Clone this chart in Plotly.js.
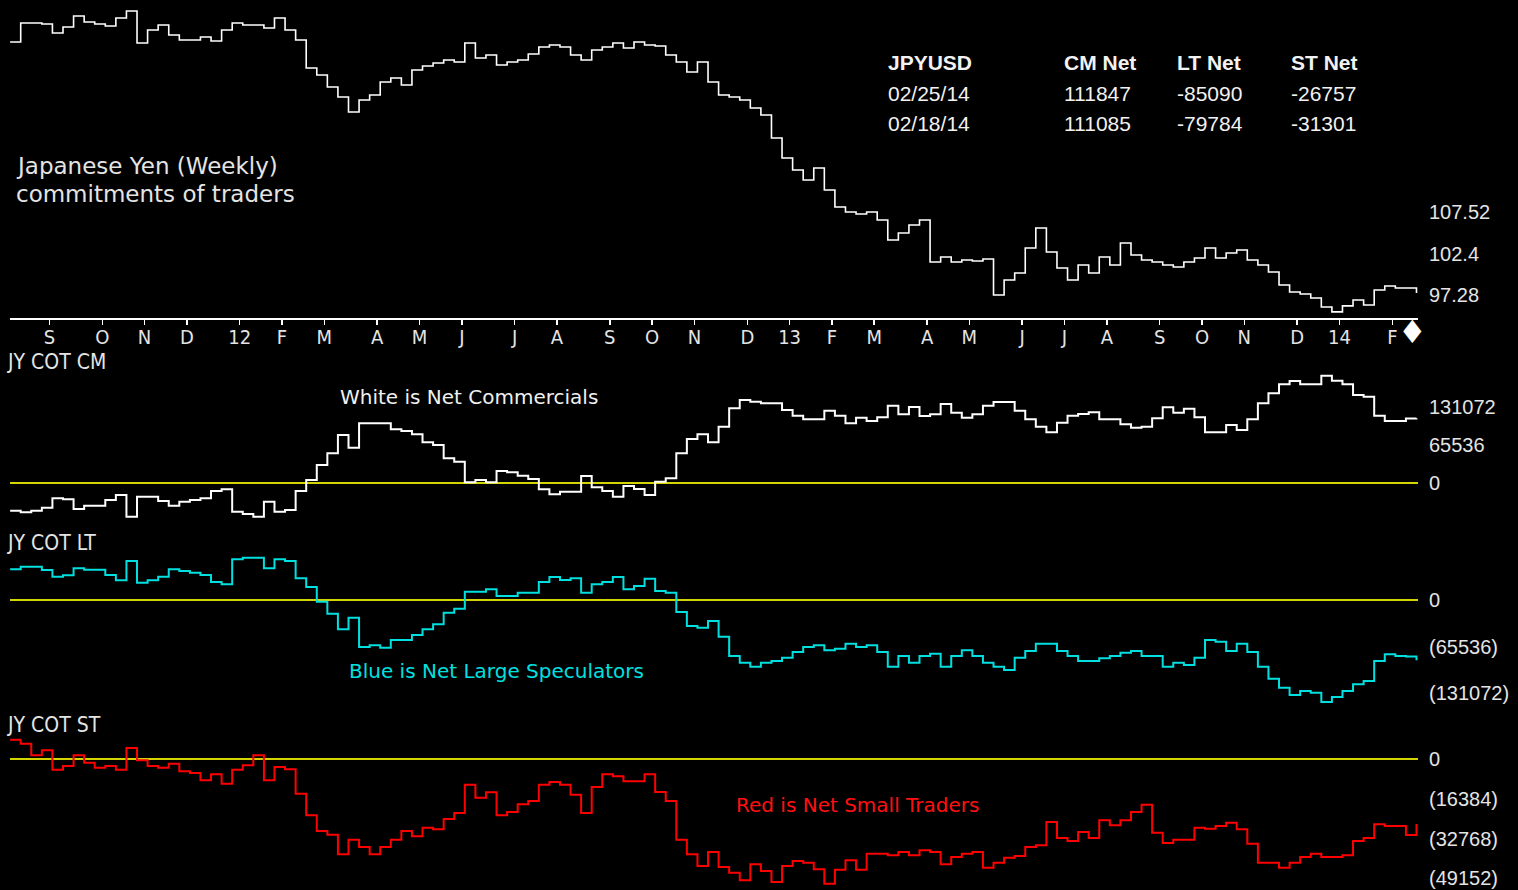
<!DOCTYPE html>
<html><head><meta charset="utf-8">
<script src="https://cdn.plot.ly/plotly-3.0.1.min.js"></script>
<style>html,body{margin:0;padding:0;background:#000;overflow:hidden}#chart{width:1518px;height:890px}</style>
</head><body><div id="chart"></div>
<script>
// Weekly COT report dates (Tuesdays), first week and count
const firstWeek = '2011-08-09';
const weekCount = 134;

// Japanese Yen futures weekly close (x100)
const jpyusd = [128.56,130.90,130.90,130.78,129.67,130.41,131.77,131.03,130.78,130.53,
131.52,132.38,128.43,130.04,130.66,129.42,128.81,128.81,129.17,128.68,
130.04,130.90,130.66,130.66,130.29,131.52,130.04,128.81,125.35,124.49,
123.01,121.77,119.92,121.40,122.02,123.62,124.12,123.25,125.10,125.60,
125.97,126.34,126.09,128.43,126.58,126.95,125.72,126.09,126.34,127.08,
127.94,128.19,127.94,126.95,126.34,127.57,127.94,128.43,127.82,128.56,
128.19,128.06,126.95,126.09,124.86,126.09,123.62,122.02,121.77,121.40,
120.41,119.55,116.71,114.25,112.77,111.53,113.01,110.30,108.20,107.58,
107.34,107.58,106.60,104.13,104.99,105.98,106.60,101.41,102.03,101.41,
101.66,101.54,101.78,97.34,99.19,100.06,103.14,105.61,102.65,100.67,
99.19,101.04,100.06,102.03,101.04,103.76,102.28,101.66,101.41,101.04,
100.80,101.41,101.91,103.14,101.91,102.52,102.89,101.66,101.04,100.18,
98.58,97.71,97.47,96.97,95.86,95.25,95.99,96.73,96.11,97.96,
98.45,98.21,98.21,97.59];

// Net Commercials
const cmNet = [-47717,-50591,-47717,-42543,-26445,-28170,-44842,-39093,-39093,-29320,
-20696,-58065,-23571,-23571,-31045,-39093,-32194,-29320,-26445,-13798,
-10923,-49441,-53466,-58065,-32194,-49441,-46567,-13798,5174,31045,
51166,82786,60939,102907,102907,102907,92559,89684,83935,70138,
65539,42543,36794,1150,5174,1150,20696,18397,12648,6899,
-10923,-19547,-14947,-14947,12073,-7474,-13798,-23571,-5174,-10348,
-20696,2300,8049,51166,75887,83935,70138,97158,128778,143150,
140276,137401,137401,125903,116130,109806,109806,124753,116130,102907,
112680,106931,113255,133377,118429,131077,115555,118429,136251,121304,
112680,118429,133377,139701,139701,124753,109806,97158,87385,104057,
116130,119004,121879,109806,109806,101182,95433,97158,111531,130502,
121304,128203,113255,87385,87385,100033,91409,109806,137401,154648,
170170,175919,170170,170170,185118,176494,170170,151774,148899,116130,
106931,106931,111085,111847];

// Net Large Speculators
const ltNet = [43222,46980,46980,42282,32886,34765,44631,42752,42752,35235,
27718,54967,24430,27718,32886,43222,40873,38524,35235,25369,
22081,57316,59665,59665,44631,57316,54967,30537,18322,-2349,
-19262,-41342,-24899,-66242,-63893,-67181,-56376,-56376,-49329,-41342,
-34295,-17852,-12215,11745,11745,15034,5638,5638,10336,10336,
25369,32416,28188,30537,10336,22081,25369,32416,15034,19732,
30067,12685,10336,-16913,-36644,-38993,-29597,-51678,-78926,-88322,
-93960,-88322,-85973,-81275,-73289,-66242,-63893,-70940,-68591,-61544,
-66242,-63893,-73289,-93960,-78926,-88322,-78926,-75638,-93960,-78926,
-70940,-78926,-88322,-93960,-98658,-81275,-71879,-61544,-61544,-71879,
-78926,-85973,-85973,-82215,-78926,-74228,-71879,-78926,-78926,-93960,
-88322,-91611,-81275,-56376,-58725,-71879,-61544,-73289,-93960,-110873,
-123557,-133893,-128255,-130604,-143759,-136712,-128255,-118859,-114161,-85973,
-76577,-78926,-79784,-85090];

// Net Small Traders
const stNet = [8124,6472,1652,3718,-4269,-2754,1652,-1377,-3443,-2754,
-4269,4682,-413,-2754,-3443,-1790,-4957,-5646,-8675,-6197,
-10052,-4269,-2479,1652,-8675,-3167,-4131,-14183,-23134,-29606,
-31120,-39245,-33186,-36215,-39245,-36215,-33186,-29606,-31809,-28229,
-28917,-24648,-22170,-10465,-15836,-13632,-23134,-21757,-18590,-17213,
-10465,-9364,-10465,-14596,-22170,-11429,-6197,-7023,-9088,-9088,
-6197,-13495,-17213,-33186,-39245,-44064,-38281,-44477,-46818,-49985,
-43376,-46130,-50674,-44064,-41999,-42687,-45441,-51362,-45579,-41723,
-45579,-38969,-38969,-39658,-38281,-39658,-37592,-38281,-43376,-40346,
-38969,-38281,-44753,-42687,-40622,-39933,-36215,-35527,-25888,-32497,
-33737,-30019,-32497,-25199,-27265,-25199,-21757,-18727,-30294,-34563,
-33186,-33186,-28229,-28642,-27540,-26163,-28917,-34838,-42687,-42687,
-44753,-42687,-40346,-38969,-40346,-40346,-39658,-33737,-32497,-26852,
-27540,-27540,-31301,-26757];

// Axis tick labels
const priceTicks = [97.28, 102.4, 107.52];
const priceTickText = ['97.28', '102.4', '107.52'];
const cmTicks = [0, 65536, 131072];
const cmTickText = ['0', '65536', '131072'];
const ltTicks = [0, -65536, -131072];
const ltTickText = ['0', '(65536)', '(131072)'];
const stTicks = [0, -16384, -32768, -49152];
const stTickText = ['0', '(16384)', '(32768)', '(49152)'];
const monthLetters = ['J','F','M','A','M','J','J','A','S','O','N','D'];

// ---- build dates
const DAY = 86400000;
const t0 = Date.parse(firstWeek + 'T00:00:00Z');
const iso = ms => new Date(ms).toISOString().slice(0, 10);
const dates = [];
for (let i = 0; i < weekCount; i++) dates.push(iso(t0 + i * 7 * DAY));

// month ticks at the week containing the first Friday of each month
const tickVals = [], tickText = [];
dates.forEach(d => {
  const t = Date.parse(d + 'T00:00:00Z');
  const fri = new Date(t + 3 * DAY);
  if (fri.getUTCDate() <= 7) {
    tickVals.push(iso(t + 5 * DAY));
    const m = fri.getUTCMonth();
    tickText.push(m === 0 ? String(fri.getUTCFullYear() % 100).padStart(2, '0') : monthLetters[m]);
  }
});

const N = dates.length - 1;
const fmtDate = d => d.slice(5, 7) + '/' + d.slice(8, 10) + '/' + d.slice(2, 4);

const condFont = 'DejaVu Sans Condensed, DejaVu Sans, sans-serif';
const txtFont = 'DejaVu Sans, Verdana, sans-serif';
const numFont = 'Liberation Sans Narrow, Liberation Sans, Arial, sans-serif';
const txtColor = '#e4e4e4';
const yellow = '#d4d400';

const stepLine = (y, yaxis, color, width) => ({
  type: 'scatter', mode: 'lines', x: dates, y: y, xaxis: 'x', yaxis: yaxis,
  line: {shape: 'hv', color: color, width: width}, hoverinfo: 'skip'
});

const traces = [
  stepLine(jpyusd, 'y', '#ffffff', 1.6),
  stepLine(cmNet, 'y2', '#ffffff', 2),
  stepLine(ltNet, 'y3', '#00e0e0', 2),
  stepLine(stNet, 'y4', '#ff0000', 2)
];

const H = 890, L = 10, W = 1408;
const px = x => (x - L) / W;
const py = y => 1 - y / H;

const yBase = {
  side: 'right', showgrid: false, showline: false, ticks: '',
  tickfont: {family: numFont, size: 20, color: txtColor},
  ticklabelstandoff: 10, fixedrange: true
};

function ann(text, x, y, font) {
  return {
    text: text, xref: 'paper', yref: 'paper', x: px(x), y: py(y),
    xanchor: 'left', yanchor: 'middle', showarrow: false, font: font
  };
}

const tabFont = {family: 'Liberation Sans, Arial, sans-serif', size: 21, color: '#f2f2f2'};
const cols = [886, 1062, 1175, 1289];
const rows = [63, 93, 124];
const table = [
  ['<b>JPYUSD</b>', '<b>CM Net</b>', '<b>LT Net</b>', '<b>ST Net</b>'],
  [fmtDate(dates[N]), String(cmNet[N]), String(ltNet[N]), String(stNet[N])],
  [fmtDate(dates[N - 1]), String(cmNet[N - 1]), String(ltNet[N - 1]), String(stNet[N - 1])]
];
const annotations = [];
table.forEach((r, ri) => r.forEach((c, ci) => annotations.push(ann(c, cols[ci], rows[ri], tabFont))));

annotations.push(
  ann('Japanese Yen (Weekly)', 14, 166, {family: txtFont, size: 23, color: txtColor}),
  ann('commitments of traders', 14, 194, {family: txtFont, size: 23, color: txtColor}),
  ann('JY COT CM', 5, 362, {family: condFont, size: 21, color: txtColor}),
  ann('JY COT LT', 5, 543, {family: condFont, size: 21, color: txtColor}),
  ann('JY COT ST', 5, 725, {family: condFont, size: 21, color: txtColor}),
  ann('White is Net Commercials', 338, 397, {family: txtFont, size: 20, color: '#f0f0f0'}),
  ann('Blue is Net Large Speculators', 347, 671, {family: txtFont, size: 20, color: '#00e0e0'}),
  ann('Red is Net Small Traders', 734, 805, {family: txtFont, size: 20, color: '#ff1010'}),
  {text: '\u2666', xref: 'x', yref: 'paper', x: dates[N], y: py(332), xanchor: 'center', yanchor: 'middle',
   xshift: -4, showarrow: false, font: {family: 'DejaVu Sans, sans-serif', size: 32, color: '#ffffff'}}
);

const layout = {
  width: 1518, height: 890,
  margin: {l: L, r: 1518 - L - W, t: 0, b: 0},
  paper_bgcolor: '#000000', plot_bgcolor: '#000000',
  showlegend: false,
  xaxis: {
    type: 'date', range: ['2011-08-08 22:00', '2014-02-26 00:00'],
    anchor: 'y', showgrid: false, zeroline: false,
    showline: true, linecolor: '#ffffff', linewidth: 2,
    ticks: 'outside', ticklen: 5, tickwidth: 1.5, tickcolor: '#ffffff',
    tickmode: 'array', tickvals: tickVals, ticktext: tickText, ticklabelstandoff: -5,
    tickfont: {family: condFont, size: 20, color: txtColor}, fixedrange: true
  },
  yaxis: Object.assign({}, yBase, {domain: [py(318), py(8)], range: [94.50, 132.75], zeroline: false,
    tickmode: 'array', tickvals: priceTicks, ticktext: priceTickText}),
  yaxis2: Object.assign({}, yBase, {domain: [py(530), py(370)], range: [-81056, 194880],
    zeroline: true, zerolinecolor: yellow, zerolinewidth: 2,
    tickmode: 'array', tickvals: cmTicks, ticktext: cmTickText}),
  yaxis3: Object.assign({}, yBase, {domain: [py(710), py(550)], range: [-155034, 70470],
    zeroline: true, zerolinecolor: yellow, zerolinewidth: 2,
    tickmode: 'array', tickvals: ltTicks, ticktext: ltTickText}),
  yaxis4: Object.assign({}, yBase, {domain: [0, py(735)], range: [-53979, 10036],
    zeroline: true, zerolinecolor: yellow, zerolinewidth: 2,
    tickmode: 'array', tickvals: stTicks, ticktext: stTickText}),
  annotations: annotations
};

Plotly.newPlot('chart', traces, layout, {staticPlot: true, displayModeBar: false});
</script>
</body></html>
